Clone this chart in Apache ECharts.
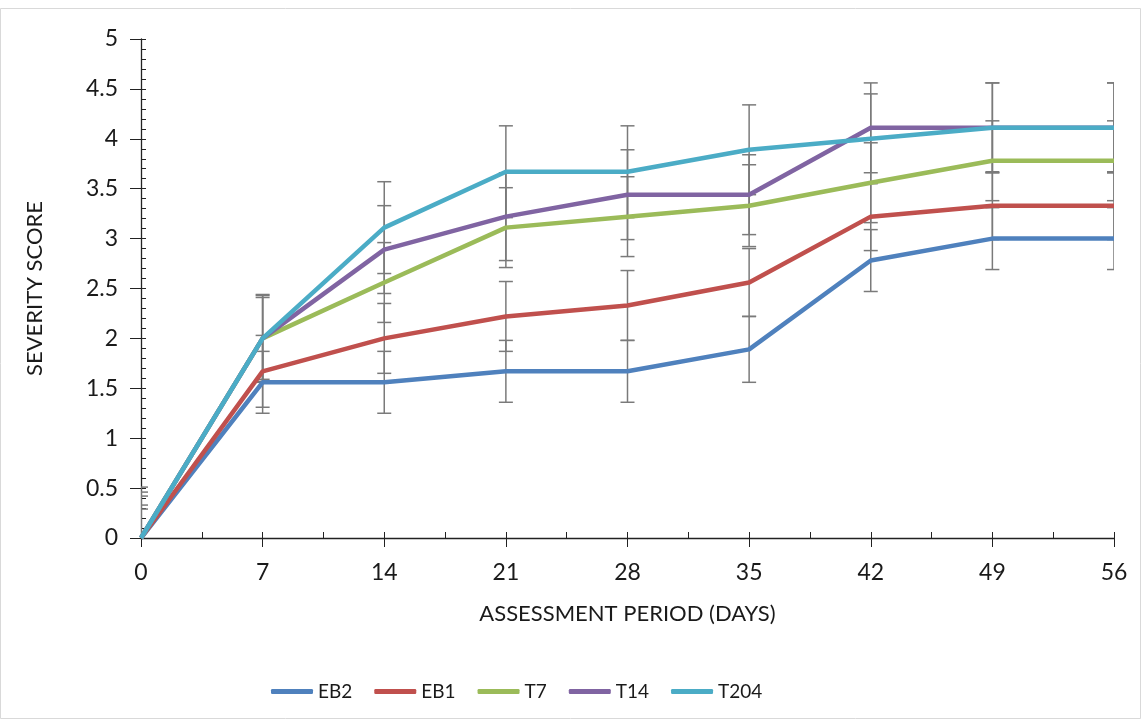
<!DOCTYPE html>
<html lang="en">
<head>
    <meta charset="UTF-8">
    <title>Severity score</title>
    <script src="https://cdn.jsdelivr.net/npm/echarts@6/dist/echarts.min.js"></script>
    <style>
        html, body { margin: 0; padding: 0; background: #fff; }
        #main { width: 1144px; height: 721px; }
    </style>
</head>
<body>
<div id="main"></div>
<script>
    // days of assessment
    var days = [0, 7, 14, 21, 28, 35, 42, 49, 56];

    // mean severity score per series
    var eb2  = [0, 1.56, 1.56, 1.67, 1.67, 1.89, 2.78, 3.00, 3.00];
    var eb1  = [0, 1.67, 2.00, 2.22, 2.33, 2.56, 3.22, 3.33, 3.33];
    var t7   = [0, 2.00, 2.56, 3.11, 3.22, 3.33, 3.56, 3.78, 3.78];
    var t14  = [0, 2.00, 2.89, 3.22, 3.44, 3.44, 4.11, 4.11, 4.11];
    var t204 = [0, 2.00, 3.11, 3.67, 3.67, 3.89, 4.00, 4.11, 4.11];

    // error bar half-lengths (+/-)
    var eb2Err  = [0.29, 0.31, 0.31, 0.31, 0.31, 0.33, 0.31, 0.31, 0.31];
    var eb1Err  = [0.33, 0.36, 0.35, 0.35, 0.35, 0.34, 0.34, 0.34, 0.34];
    var t7Err   = [0.42, 0.44, 0.40, 0.40, 0.40, 0.41, 0.40, 0.40, 0.40];
    var t14Err  = [0.46, 0.43, 0.44, 0.44, 0.45, 0.40, 0.45, 0.45, 0.45];
    var t204Err = [0.51, 0.41, 0.46, 0.46, 0.46, 0.45, 0.45, 0.45, 0.45];

    var names  = ['EB2', 'EB1', 'T7', 'T14', 'T204'];
    var colors = ['#4F81BD', '#C0504D', '#9BBB59', '#8064A2', '#4BACC6'];
    var values = [eb2, eb1, t7, t14, t204];
    var errors = [eb2Err, eb1Err, t7Err, t14Err, t204Err];

    var textColor = '#1a1a1a';
    var font = 'Lato';

    function errorBar(params, api) {
        var x = api.value(0), y = api.value(1), e = api.value(2);
        var top = api.coord([x, y + e]);
        var bot = api.coord([x, y - e]);
        var w = 7;
        var style = { stroke: '#7a7a7a', lineWidth: 1.5 };
        return {
            type: 'group',
            children: [
                { type: 'line', shape: { x1: top[0], y1: top[1], x2: bot[0], y2: bot[1] }, style: style },
                { type: 'line', shape: { x1: top[0] - w, y1: top[1], x2: top[0] + w, y2: top[1] }, style: style },
                { type: 'line', shape: { x1: bot[0] - w, y1: bot[1], x2: bot[0] + w, y2: bot[1] }, style: style }
            ]
        };
    }

    var series = [];
    // error bars first so the lines sit on top
    for (var i = 0; i < names.length; i++) {
        var ed = [];
        for (var j = 0; j < days.length; j++) {
            ed.push([days[j], values[i][j], errors[i][j]]);
        }
        series.push({
            type: 'custom',
            name: names[i] + ' err',
            renderItem: errorBar,
            data: ed,
            clip: true,
            z: 1,
            silent: true
        });
    }
    for (var i = 0; i < names.length; i++) {
        var d = [];
        for (var j = 0; j < days.length; j++) {
            d.push([days[j], values[i][j]]);
        }
        series.push({
            name: names[i],
            type: 'line',
            data: d,
            showSymbol: false,
            color: colors[i],
            lineStyle: { width: 4.5, color: colors[i] },
            z: 2 + i
        });
    }

    var axisLine = { show: true, lineStyle: { color: '#222', width: 1.3 } };

    var option = {
        animation: false,
        backgroundColor: '#fff',
        graphic: [{
            type: 'rect',
            shape: { x: 0.5, y: 8.5, width: 1140, height: 710 },
            style: { fill: 'none', stroke: '#d9d9d9', lineWidth: 1 },
            silent: true
        }],
        grid: { left: 141, right: 30, top: 39, bottom: 183 },
        legend: {
            data: names,
            left: 266,
            top: 677,
            icon: 'roundRect',
            itemWidth: 42,
            itemHeight: 5,
            itemGap: 22,
            textStyle: { color: textColor, fontFamily: font, fontSize: 19 }
        },
        xAxis: [{
            type: 'value',
            min: 0,
            max: 56,
            interval: 7,
            name: 'ASSESSMENT PERIOD (DAYS)',
            nameLocation: 'middle',
            nameGap: 65,
            nameTextStyle: { color: textColor, fontFamily: font, fontSize: 22 },
            axisLine: axisLine,
            axisTick: { show: true, length: 9, lineStyle: { color: '#222' } },
            axisLabel: { color: textColor, fontFamily: font, fontSize: 23, margin: 23 },
            splitLine: { show: false }
        }, {
            type: 'value',
            position: 'bottom',
            min: 0,
            max: 56,
            interval: 7,
            axisLine: { show: false },
            axisLabel: { show: false },
            axisTick: { show: true, inside: true, length: 6, lineStyle: { color: '#222' } },
            minorTick: { show: true, splitNumber: 2, length: 6, lineStyle: { color: '#222' } },
            splitLine: { show: false }
        }],
        yAxis: [{
            type: 'value',
            min: 0,
            max: 5,
            interval: 0.5,
            name: 'SEVERITY SCORE',
            nameLocation: 'middle',
            nameGap: 95,
            nameTextStyle: { color: textColor, fontFamily: font, fontSize: 22 },
            axisLine: axisLine,
            axisTick: { show: true, length: 11, lineStyle: { color: '#222' } },
            axisLabel: { color: textColor, fontFamily: font, fontSize: 23, margin: 23 },
            splitLine: { show: false }
        }, {
            type: 'value',
            position: 'left',
            min: 0,
            max: 5,
            interval: 0.5,
            axisLine: { show: false },
            axisLabel: { show: false },
            axisTick: { show: true, inside: true, length: 5, lineStyle: { color: '#222' } },
            minorTick: { show: true, splitNumber: 5, length: 5, lineStyle: { color: '#222' } },
            splitLine: { show: false }
        }],
        series: series
    };

    var chart = echarts.init(document.getElementById('main'));
    chart.setOption(option);
</script>
</body>
</html>
